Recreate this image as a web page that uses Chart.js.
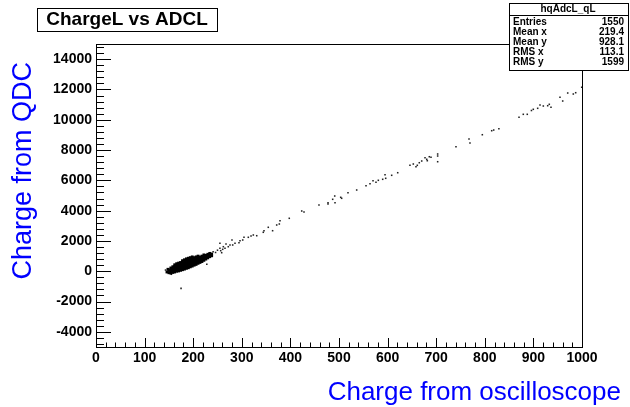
<!DOCTYPE html>
<html>
<head>
<meta charset="utf-8">
<script src="https://cdn.jsdelivr.net/npm/chart.js@4/dist/chart.umd.min.js"></script>
<style>
  html, body { margin: 0; padding: 0; background: #fff; }
  #wrap { width: 630px; height: 407px; }
</style>
</head>
<body>
<div id="wrap"><canvas id="myChart" width="630" height="407"></canvas></div>
<script>
// Etiquetas de los ejes
const xTicks = [0, 100, 200, 300, 400, 500, 600, 700, 800, 900, 1000];
const yTicks = [-4000, -2000, 0, 2000, 4000, 6000, 8000, 10000, 12000, 14000];

// Nube densa (x, y)
const clusterPts = [
  [146, -50], [148, 130], [150, -100], [150, 50],
  [154, -120], [154, 0], [154, 130], [154, 220],
  [158, -80], [158, 50], [158, 180], [158, 300],
  [162, -50], [162, 80], [162, 210], [162, 340], [162, 430],
  [166, 0], [166, 120], [166, 250], [166, 380], [166, 500],
  [170, 20], [170, 150], [170, 280], [170, 410], [170, 540],
  [174, 60], [174, 190], [174, 320], [174, 450], [174, 580],
  [178, 100], [178, 230], [178, 360], [178, 490], [178, 620], [178, 700],
  [182, 140], [182, 270], [182, 400], [182, 530], [182, 660], [182, 760],
  [186, 190], [186, 320], [186, 450], [186, 580], [186, 710], [186, 820],
  [190, 230], [190, 360], [190, 490], [190, 620], [190, 750], [190, 860],
  [194, 290], [194, 410], [194, 540], [194, 670], [194, 800], [194, 900],
  [198, 340], [198, 460], [198, 590], [198, 720], [198, 850], [198, 950],
  [202, 400], [202, 520], [202, 650], [202, 780], [202, 900],
  [206, 450], [206, 580], [206, 700], [206, 830], [206, 950],
  [210, 520], [210, 640], [210, 760], [210, 880], [210, 1000],
  [214, 580], [214, 700], [214, 820], [214, 940],
  [218, 640], [218, 760], [218, 880], [218, 1000],
  [222, 720], [222, 840], [222, 960], [222, 1080],
  [226, 800], [226, 920], [226, 1050],
  [230, 880], [230, 1000], [230, 1120],
  [234, 960], [234, 1080], [234, 1180],
  [238, 1020], [238, 1140]
];

// Puntos sueltos (fuera de la nube y a lo largo de la recta)
const tailPts = [
  [143, 80], [155, -200], [175, -1130], [228, 460],
  [241, 1290], [246, 1240], [250, 1390], [255, 1515], [255, 1845], [262, 1620],
  [256.6, 1356], [258.6, 1224], [260.7, 1449], [265.4, 1515], [267.5, 1799], [272.2, 1620],
  [275.7, 1733], [281.3, 1733], [279.8, 2063], [286, 1845], [294.2, 1884], [296.3, 2016],
  [301.9, 2063], [304.5, 2241], [313.4, 2241], [319, 2327], [323.7, 2393], [330.7, 2346],
  [344.2, 2571], [345.7, 2676], [363.4, 2676], [354.5, 2901], [371.8, 3053], [377.2, 3119],
  [378.6, 3336], [397.7, 3495], [423.3, 3977], [428, 3911], [458.8, 4373], [477.4, 4524],
  [477.4, 4439], [487, 4749], [491.2, 4967], [491.8, 4524], [503.5, 4881], [505.5, 4815],
  [518.5, 5184], [536.4, 5363], [555.6, 5646], [563.8, 5778], [570, 5976], [576.1, 5871],
  [580.9, 6003], [589.9, 6069], [594.7, 6372], [596.1, 6135], [608.4, 6333], [620.8, 6504],
  [646, 6993], [652.9, 7079], [658.4, 6900], [661.1, 6993], [665.2, 7164], [670.2, 7277],
  [677, 7494], [680.5, 7389], [681.7, 7296], [685.8, 7560], [689.3, 7521], [703, 7739],
  [703, 7607], [703, 7230], [740.7, 8220], [767.5, 8729], [769.5, 8465], [794.9, 9012],
  [814.2, 9276], [818.3, 9322], [829, 9410], [870.4, 10161], [879.2, 10359], [887.4, 10359],
  [896, 10610], [899.8, 10689], [908.8, 10755], [913.6, 10973], [920.4, 10907], [929.4, 10927],
  [932.7, 11019], [936.2, 10821], [954.7, 11481], [960.3, 11237], [970.6, 11765], [982.1, 11699],
  [987, 11785], [999.4, 12141]
];

// Recuadro de estadisticas
const statsName = 'hqAdcL_qL';
const statsLabels = ['Entries', 'Mean x', 'Mean y', 'RMS x', 'RMS y'];
const statsValues = ['1550', '219.4', '928.1', '113.1', '1599'];

const FONT = "'Liberation Sans', Arial, Helvetica, sans-serif";

function line(ctx, x1, y1, x2, y2) {
  ctx.beginPath();
  ctx.moveTo(x1, y1);
  ctx.lineTo(x2, y2);
  ctx.stroke();
}

// Marco, marcas de los ejes, titulo, estadisticas (estilo ROOT)
const rootStyle = {
  id: 'rootStyle',
  afterDraw(chart) {
    const ctx = chart.ctx;
    const a = chart.chartArea;
    const xs = chart.scales.x;
    const ys = chart.scales.y;
    ctx.save();
    ctx.strokeStyle = '#000';
    ctx.lineWidth = 1;
    ctx.strokeRect(a.left + 0.5, a.top + 0.5, a.right - a.left, a.bottom - a.top);

    for (let v = -4800; v <= 14800; v += 400) {
      const py = Math.round(ys.getPixelForValue(v)) + 0.5;
      const len = (v % 2000 === 0) ? 15 : 8;
      line(ctx, a.left, py, a.left + len, py);
    }
    for (let v = 0; v <= 1000; v += 20) {
      const px = Math.round(xs.getPixelForValue(v)) + 0.5;
      const len = (v % 100 === 0) ? 9 : 4.5;
      line(ctx, px, a.bottom, px, a.bottom - len);
    }

    // titulo
    ctx.fillStyle = '#fff';
    ctx.fillRect(37, 8, 180, 23);
    ctx.strokeRect(37.5, 8.5, 180, 23);
    ctx.fillStyle = '#000';
    ctx.font = 'bold 19px ' + FONT;
    ctx.textAlign = 'center';
    ctx.textBaseline = 'middle';
    ctx.fillText('ChargeL vs ADCL', 127, 20);

    // estadisticas
    ctx.fillStyle = '#fff';
    ctx.fillRect(509, 3, 119, 67);
    ctx.strokeRect(509.5, 3.5, 119, 67);
    line(ctx, 509, 15.5, 628, 15.5);
    ctx.fillStyle = '#000';
    ctx.font = 'bold 10px ' + FONT;
    ctx.fillText(statsName, 568, 9.5);
    statsLabels.forEach((lab, i) => {
      const y = 22 + i * 10;
      ctx.textAlign = 'left';
      ctx.fillText(lab, 513, y);
      ctx.textAlign = 'right';
      ctx.fillText(statsValues[i], 624, y);
    });

    // titulos de los ejes
    ctx.fillStyle = '#0000ff';
    ctx.font = '26px ' + FONT;
    ctx.textAlign = 'right';
    ctx.textBaseline = 'alphabetic';
    ctx.fillText('Charge from oscilloscope', 621, 400);
    ctx.font = '27px ' + FONT;
    ctx.translate(31, 62);
    ctx.rotate(-Math.PI / 2);
    ctx.fillText('Charge from QDC', 0, 0);
    ctx.restore();
  }
};

var ctx = document.getElementById('myChart');
var myChart = new Chart(ctx, {
  type: 'scatter',
  data: {
    datasets: [{
      label: 'cluster',
      data: clusterPts.map(p => ({ x: p[0], y: p[1] })),
      pointStyle: 'rect',
      pointRadius: 2,
      borderWidth: 0,
      backgroundColor: '#000'
    }, {
      label: 'tail',
      data: tailPts.map(p => ({ x: p[0], y: p[1] })),
      pointStyle: 'rect',
      pointRadius: 1.1,
      borderWidth: 0,
      backgroundColor: '#222'
    }]
  },
  options: {
    responsive: false,
    animation: false,
    devicePixelRatio: 1,
    layout: { padding: { top: 44, right: 48, left: 0, bottom: 0 } },
    plugins: { legend: { display: false }, tooltip: { enabled: false } },
    scales: {
      x: {
        type: 'linear',
        min: 0,
        max: 1000,
        grid: { display: false, drawTicks: false },
        border: { display: false },
        afterBuildTicks: s => { s.ticks = xTicks.map(v => ({ value: v })); },
        afterFit: s => { s.height = 60; },
        ticks: { color: '#000', padding: 3, maxRotation: 0, autoSkip: false,
                 callback: v => String(v),
                 font: { family: FONT, size: 14, weight: 'bold' } }
      },
      y: {
        type: 'linear',
        min: -5000,
        max: 15000,
        grid: { display: false, drawTicks: false },
        border: { display: false },
        afterBuildTicks: s => { s.ticks = yTicks.map(v => ({ value: v })); },
        afterFit: s => { s.width = 96; },
        ticks: { color: '#000', padding: 4, autoSkip: false,
                 callback: v => String(v),
                 font: { family: FONT, size: 14, weight: 'bold' } }
      }
    }
  },
  plugins: [rootStyle]
});
</script>
</body>
</html>
